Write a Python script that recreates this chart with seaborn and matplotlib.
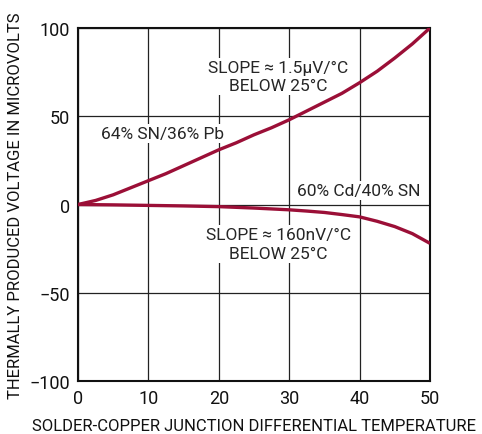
import matplotlib
matplotlib.use("Agg")
import matplotlib.pyplot as plt
import seaborn as sns
import pandas as pd
from matplotlib import font_manager

temps = [0, 2.5, 5, 7.5, 10, 12.5, 15, 17.5, 20, 22.5, 25, 27.5, 30, 32.5, 35, 37.5, 40, 42.5, 45, 47.5, 50]
sn_pb = [0, 2.3, 5.5, 9.5, 13.5, 17.5, 22, 26.5, 31, 35, 39.5, 43.5, 48, 53, 58, 63, 69, 75.5, 83, 91, 100]
cd_sn = [0, -0.1, -0.2, -0.35, -0.5, -0.65, -0.8, -1.0, -1.2, -1.6, -2, -2.5, -3, -3.7, -4.5, -5.7, -7, -9.5, -12.5, -16.5, -22]
x_ticks = [0, 10, 20, 30, 40, 50]
y_ticks = [-100, -50, 0, 50, 100]
y_tick_labels = ["\u2212100", "\u221250", "0", "50", "100"]

sns.set_style("white")
names = {f.name for f in font_manager.fontManager.ttflist}
fam = "Liberation Sans Narrow" if "Liberation Sans Narrow" in names else "Roboto"
plt.rcParams["font.family"] = [fam, "DejaVu Sans"]

df = pd.concat([
    pd.DataFrame({"T": temps, "V": sn_pb, "alloy": "64% SN/36% Pb"}),
    pd.DataFrame({"T": temps, "V": cd_sn, "alloy": "60% Cd/40% SN"}),
])

fig = plt.figure(figsize=(4.82, 4.35), dpi=100)
ax = fig.add_axes([0.1618, 0.1218, 0.7302, 0.8115])

ax.set_xlim(0, 50)
ax.set_ylim(-100, 100)
ax.set_xticks(x_ticks)
ax.set_yticks(y_ticks)
ax.set_yticklabels(y_tick_labels)
ax.grid(True, color="#222222", linewidth=0.9)
ax.set_axisbelow(True)

sns.lineplot(data=df, x="T", y="V", units="alloy", estimator=None,
             color="#9B0F37", linewidth=2.4, ax=ax, legend=False, zorder=3,
             solid_joinstyle="round", solid_capstyle="butt")

for s in ax.spines.values():
    s.set_color("#111111")
    s.set_linewidth(1.5)
ax.tick_params(axis="both", length=0, labelsize=13, pad=6, colors="#111111")

ax.set_xlabel("SOLDER-COPPER JUNCTION DIFFERENTIAL TEMPERATURE", fontsize=12, labelpad=8, color="#111111")
ax.set_ylabel("THERMALLY PRODUCED VOLTAGE IN MICROVOLTS", fontsize=12, labelpad=4, color="#111111")

bbox = dict(facecolor="white", edgecolor="none", pad=1.5)
ax.text(28.5, 72.5, "SLOPE \u2248 1.5\u00b5V/\u00b0C\nBELOW 25\u00b0C", ha="center", va="center",
        fontsize=12.5, bbox=bbox, zorder=2, linespacing=1.3)
ax.text(12.0, 40, "64% SN/36% Pb", ha="center", va="center", fontsize=12.5, bbox=bbox, zorder=2)
ax.text(39.9, 8, "60% Cd/40% SN", ha="center", va="center", fontsize=12.5, bbox=bbox, zorder=2)
ax.text(28.5, -22.3, "SLOPE \u2248 160nV/\u00b0C\nBELOW 25\u00b0C", ha="center", va="center",
        fontsize=12.5, bbox=bbox, zorder=2, linespacing=1.3)

fig.savefig("out.png", dpi=100)
